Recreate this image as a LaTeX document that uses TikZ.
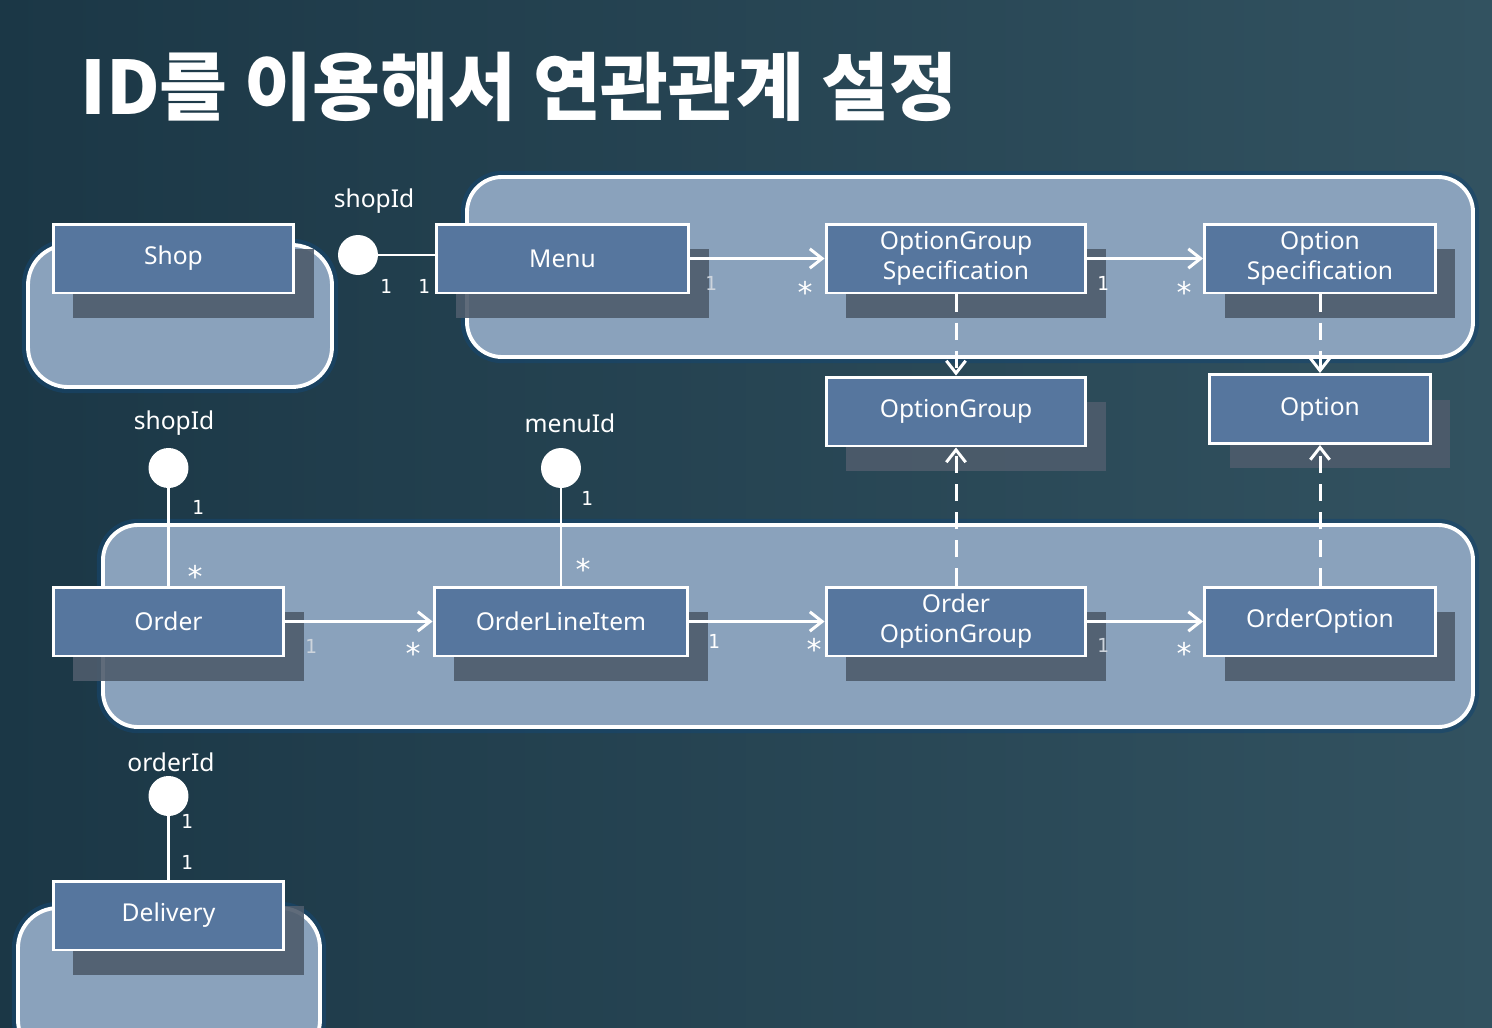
\documentclass[tikz,border=0pt]{standalone}
\usepackage{fontspec}
\setmainfont{Noto Sans}
\setmonofont{DejaVu Sans Mono}
\newfontfamily\cjk{Noto Sans CJK KR}
\usetikzlibrary{arrows.meta,backgrounds,positioning,shadows}
\definecolor{BgDark}{RGB}{27,55,70}
\definecolor{BgLight}{RGB}{50,82,96}
\definecolor{PanelBlue}{RGB}{138,162,188}
\definecolor{GlowBlue}{RGB}{22,70,110}
\definecolor{EntityBlue}{RGB}{86,118,158}
\definecolor{ShadowGray}{RGB}{78,92,108}
\definecolor{FadeGray}{RGB}{205,212,220}
\tikzset{
  title/.style={
    text=white,
    font=\cjk\bfseries\fontsize{42}{46}\selectfont
  },
  group/.style={
    draw=white,
    line width=2.2pt,
    fill=PanelBlue,
    rounded corners=0.8cm,
    preaction={draw=GlowBlue,line width=7pt,opacity=0.6}
  },
  entity/.style={
    draw=white,
    line width=1.7pt,
    fill=EntityBlue,
    text=white,
    align=center,
    inner sep=0pt,
    minimum height=1.38cm,
    font=\fontsize{14}{17}\selectfont,
    drop shadow={shadow xshift=0.4cm,shadow yshift=-0.5cm,fill=ShadowGray,opacity=0.9}
  },
  lolli/.style={
    circle,
    fill=white,
    inner sep=0pt,
    minimum size=0.8cm
  },
  idtext/.style={
    text=white,
    font=\fontsize{14}{16}\selectfont
  },
  mult/.style={
    text=white,
    inner sep=1pt,
    font=\ttfamily\fontsize{11}{12}\selectfont
  },
  many/.style={
    mult,
    font=\ttfamily\fontsize{17}{17}\selectfont
  },
  link/.style={draw=white,line width=1.7pt},
  assoc/.style={link,-{Straight Barb[length=7pt,width=11pt,line width=1.7pt]}},
  dep/.style={assoc,dash pattern=on 10pt off 6pt}
}

\begin{document}
\begin{tikzpicture}[x=0.02cm,y=-0.02cm]

\useasboundingbox (0,0) rectangle (1492,1028);

\node[title,anchor=west] (ttl) at (74,87) {ID를 이용해서 연관관계 설정};

% entities
\node[entity,minimum width=4.82cm] (shop) at (173.5,258.5) {Shop};
\node[entity,minimum width=5.06cm] (menu) at (562.5,258.5) {Menu};
\node[entity,minimum width=5.2cm] (ogspec) at (956,258.5) {OptionGroup\\Specification};
\node[entity,minimum width=4.62cm] (ospec) at (1320,258.5) {Option\\Specification};

\node[entity,minimum width=5.2cm] (og) at (956,411.5) {OptionGroup};
\node[entity,minimum width=4.42cm] (opt) at (1320,409) {Option};

\node[entity,minimum width=4.62cm] (order) at (168.5,621.5) {Order};
\node[entity,minimum width=5.08cm] (oli) at (561,621.5) {OrderLineItem};
\node[entity,minimum width=5.2cm] (oog) at (956,621.5) {Order\\OptionGroup};
\node[entity,minimum width=4.62cm] (oopt) at (1320,621.5) {OrderOption};

\node[entity,minimum width=4.62cm] (deliv) at (168.5,915.5) {Delivery};

% id references
\node[lolli] (sid1) at (358,255) {};
\node[idtext] (tsid1) at (374,201) {shopId};
\node[lolli] (sid2) at (168.5,468) {};
\node[idtext] (tsid2) at (174,423) {shopId};
\node[lolli] (mid) at (561,468) {};
\node[idtext] (tmid) at (570,423) {menuId};
\node[lolli] (oid) at (168.5,796) {};
\node[idtext] (toid) at (171,762) {orderId};

\draw[link] (sid1) -- (menu.west |- sid1);
\draw[link] (sid2) -- (order);
\draw[link] (mid) -- (oli);
\draw[link] (oid) -- (deliv);

\draw[assoc] (menu) -- (ogspec);
\draw[assoc] (ogspec) -- (ospec);
\draw[assoc] (order) -- (oli);
\draw[assoc] (oli) -- (oog);
\draw[assoc] (oog) -- (oopt);

\draw[dep] (ogspec) -- (og);
\draw[dep] (ospec) -- (opt);
\draw[dep] (oog) -- (og);
\draw[dep] (oopt) -- (opt);

% multiplicities
\node[mult] (m1) at (386,286) {1};
\node[mult] (m2) at (424,286) {1};
\node[mult,text=FadeGray] (m3) at (711,283) {1};
\node[many] (m4) at (805,292) {*};
\node[mult] (m5) at (1103,283) {1};
\node[many] (m6) at (1184,292) {*};
\node[mult] (m7) at (198,507) {1};
\node[many] (m8) at (195,576) {*};
\node[mult] (m9) at (587,498) {1};
\node[many] (m10) at (583,569) {*};
\node[mult,text=FadeGray] (m11) at (311,646) {1};
\node[many] (m12) at (413,653) {*};
\node[mult] (m13) at (714,641) {1};
\node[many] (m14) at (814,649) {*};
\node[mult,text=FadeGray] (m15) at (1103,645) {1};
\node[many] (m16) at (1184,653) {*};
\node[mult] (m17) at (187,821) {1};
\node[mult] (m18) at (187,862) {1};

\begin{pgfonlayer}{background}
  \shade[left color=BgDark,right color=BgLight] (0,0) rectangle (1492,1028);
  \draw[group] (28,245) rectangle (332,387);
  \draw[group,rounded corners=0.7cm] (467,177) rectangle (1473,357);
  \draw[group,rounded corners=0.7cm] (103,525) rectangle (1473,727);
  \draw[group] (18,908) rectangle (320,1060);
\end{pgfonlayer}

\end{tikzpicture}
\end{document}
